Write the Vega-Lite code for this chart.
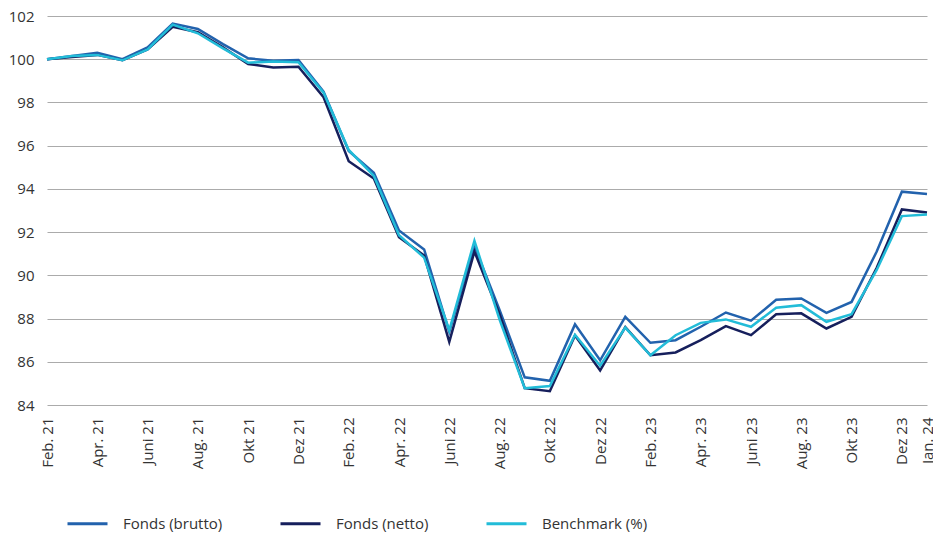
{
  "$schema": "https://vega.github.io/schema/vega-lite/v6.json",
  "width": 880,
  "height": 389,
  "autosize": {"type": "none"},
  "padding": {"left": 47, "top": 16, "right": 6, "bottom": 128},
  "background": "white",
  "config": {
    "view": {"stroke": null},
    "font": "Open Sans",
    "axis": {"labelFont": "Open Sans", "labelColor": "#333333", "labelFontSize": 15}
  },
  "data": {
    "values": [
      {"m": "Feb. 21", "s": "Fonds (brutto)", "v": 100}, {"m": "Feb. 21", "s": "Fonds (netto)", "v": 100}, {"m": "Feb. 21", "s": "Benchmark (%)", "v": 100},
      {"m": "März 21", "s": "Fonds (brutto)", "v": 100.15}, {"m": "März 21", "s": "Fonds (netto)", "v": 100.1}, {"m": "März 21", "s": "Benchmark (%)", "v": 100.15},
      {"m": "Apr. 21", "s": "Fonds (brutto)", "v": 100.3}, {"m": "Apr. 21", "s": "Fonds (netto)", "v": 100.2}, {"m": "Apr. 21", "s": "Benchmark (%)", "v": 100.2},
      {"m": "Mai 21", "s": "Fonds (brutto)", "v": 100.0}, {"m": "Mai 21", "s": "Fonds (netto)", "v": 99.95}, {"m": "Mai 21", "s": "Benchmark (%)", "v": 99.95},
      {"m": "Juni 21", "s": "Fonds (brutto)", "v": 100.55}, {"m": "Juni 21", "s": "Fonds (netto)", "v": 100.45}, {"m": "Juni 21", "s": "Benchmark (%)", "v": 100.45},
      {"m": "Juli 21", "s": "Fonds (brutto)", "v": 101.65}, {"m": "Juli 21", "s": "Fonds (netto)", "v": 101.5}, {"m": "Juli 21", "s": "Benchmark (%)", "v": 101.6},
      {"m": "Aug. 21", "s": "Fonds (brutto)", "v": 101.4}, {"m": "Aug. 21", "s": "Fonds (netto)", "v": 101.25}, {"m": "Aug. 21", "s": "Benchmark (%)", "v": 101.2},
      {"m": "Sep. 21", "s": "Fonds (brutto)", "v": 100.7}, {"m": "Sep. 21", "s": "Fonds (netto)", "v": 100.55}, {"m": "Sep. 21", "s": "Benchmark (%)", "v": 100.5},
      {"m": "Okt 21", "s": "Fonds (brutto)", "v": 100.04}, {"m": "Okt 21", "s": "Fonds (netto)", "v": 99.78}, {"m": "Okt 21", "s": "Benchmark (%)", "v": 99.84},
      {"m": "Nov. 21", "s": "Fonds (brutto)", "v": 99.93}, {"m": "Nov. 21", "s": "Fonds (netto)", "v": 99.62}, {"m": "Nov. 21", "s": "Benchmark (%)", "v": 99.89},
      {"m": "Dez 21", "s": "Fonds (brutto)", "v": 99.96}, {"m": "Dez 21", "s": "Fonds (netto)", "v": 99.65}, {"m": "Dez 21", "s": "Benchmark (%)", "v": 99.86},
      {"m": "Jan. 22", "s": "Fonds (brutto)", "v": 98.5}, {"m": "Jan. 22", "s": "Fonds (netto)", "v": 98.24}, {"m": "Jan. 22", "s": "Benchmark (%)", "v": 98.45},
      {"m": "Feb. 22", "s": "Fonds (brutto)", "v": 95.75}, {"m": "Feb. 22", "s": "Fonds (netto)", "v": 95.28}, {"m": "Feb. 22", "s": "Benchmark (%)", "v": 95.8},
      {"m": "März 22", "s": "Fonds (brutto)", "v": 94.75}, {"m": "März 22", "s": "Fonds (netto)", "v": 94.48}, {"m": "März 22", "s": "Benchmark (%)", "v": 94.6},
      {"m": "Apr. 22", "s": "Fonds (brutto)", "v": 92.08}, {"m": "Apr. 22", "s": "Fonds (netto)", "v": 91.76}, {"m": "Apr. 22", "s": "Benchmark (%)", "v": 91.86},
      {"m": "Mai 22", "s": "Fonds (brutto)", "v": 91.2}, {"m": "Mai 22", "s": "Fonds (netto)", "v": 90.92}, {"m": "Mai 22", "s": "Benchmark (%)", "v": 90.82},
      {"m": "Juni 22", "s": "Fonds (brutto)", "v": 87.38}, {"m": "Juni 22", "s": "Fonds (netto)", "v": 86.92}, {"m": "Juni 22", "s": "Benchmark (%)", "v": 87.46},
      {"m": "Juli 22", "s": "Fonds (brutto)", "v": 91.35}, {"m": "Juli 22", "s": "Fonds (netto)", "v": 91.1}, {"m": "Juli 22", "s": "Benchmark (%)", "v": 91.6},
      {"m": "Aug. 22", "s": "Fonds (brutto)", "v": 88.4}, {"m": "Aug. 22", "s": "Fonds (netto)", "v": 88.2}, {"m": "Aug. 22", "s": "Benchmark (%)", "v": 87.95},
      {"m": "Sep. 22", "s": "Fonds (brutto)", "v": 85.28}, {"m": "Sep. 22", "s": "Fonds (netto)", "v": 84.78}, {"m": "Sep. 22", "s": "Benchmark (%)", "v": 84.78},
      {"m": "Okt 22", "s": "Fonds (brutto)", "v": 85.12}, {"m": "Okt 22", "s": "Fonds (netto)", "v": 84.64}, {"m": "Okt 22", "s": "Benchmark (%)", "v": 84.88},
      {"m": "Nov. 22", "s": "Fonds (brutto)", "v": 87.73}, {"m": "Nov. 22", "s": "Fonds (netto)", "v": 87.22}, {"m": "Nov. 22", "s": "Benchmark (%)", "v": 87.25},
      {"m": "Dez 22", "s": "Fonds (brutto)", "v": 86.07}, {"m": "Dez 22", "s": "Fonds (netto)", "v": 85.6}, {"m": "Dez 22", "s": "Benchmark (%)", "v": 85.82},
      {"m": "Jan. 23", "s": "Fonds (brutto)", "v": 88.08}, {"m": "Jan. 23", "s": "Fonds (netto)", "v": 87.6}, {"m": "Jan. 23", "s": "Benchmark (%)", "v": 87.58},
      {"m": "Feb. 23", "s": "Fonds (brutto)", "v": 86.88}, {"m": "Feb. 23", "s": "Fonds (netto)", "v": 86.3}, {"m": "Feb. 23", "s": "Benchmark (%)", "v": 86.3},
      {"m": "März 23", "s": "Fonds (brutto)", "v": 87.0}, {"m": "März 23", "s": "Fonds (netto)", "v": 86.43}, {"m": "März 23", "s": "Benchmark (%)", "v": 87.23},
      {"m": "Apr. 23", "s": "Fonds (brutto)", "v": 87.62}, {"m": "Apr. 23", "s": "Fonds (netto)", "v": 87.0}, {"m": "Apr. 23", "s": "Benchmark (%)", "v": 87.8},
      {"m": "Mai 23", "s": "Fonds (brutto)", "v": 88.28}, {"m": "Mai 23", "s": "Fonds (netto)", "v": 87.65}, {"m": "Mai 23", "s": "Benchmark (%)", "v": 87.96},
      {"m": "Juni 23", "s": "Fonds (brutto)", "v": 87.9}, {"m": "Juni 23", "s": "Fonds (netto)", "v": 87.23}, {"m": "Juni 23", "s": "Benchmark (%)", "v": 87.62},
      {"m": "Juli 23", "s": "Fonds (brutto)", "v": 88.87}, {"m": "Juli 23", "s": "Fonds (netto)", "v": 88.2}, {"m": "Juli 23", "s": "Benchmark (%)", "v": 88.5},
      {"m": "Aug. 23", "s": "Fonds (brutto)", "v": 88.93}, {"m": "Aug. 23", "s": "Fonds (netto)", "v": 88.24}, {"m": "Aug. 23", "s": "Benchmark (%)", "v": 88.62},
      {"m": "Sep. 23", "s": "Fonds (brutto)", "v": 88.26}, {"m": "Sep. 23", "s": "Fonds (netto)", "v": 87.54}, {"m": "Sep. 23", "s": "Benchmark (%)", "v": 87.85},
      {"m": "Okt 23", "s": "Fonds (brutto)", "v": 88.77}, {"m": "Okt 23", "s": "Fonds (netto)", "v": 88.08}, {"m": "Okt 23", "s": "Benchmark (%)", "v": 88.2},
      {"m": "Nov. 23", "s": "Fonds (brutto)", "v": 91.1}, {"m": "Nov. 23", "s": "Fonds (netto)", "v": 90.35}, {"m": "Nov. 23", "s": "Benchmark (%)", "v": 90.25},
      {"m": "Dez 23", "s": "Fonds (brutto)", "v": 93.87}, {"m": "Dez 23", "s": "Fonds (netto)", "v": 93.05}, {"m": "Dez 23", "s": "Benchmark (%)", "v": 92.74},
      {"m": "Jan. 24", "s": "Fonds (brutto)", "v": 93.76}, {"m": "Jan. 24", "s": "Fonds (netto)", "v": 92.91}, {"m": "Jan. 24", "s": "Benchmark (%)", "v": 92.82}
    ]
  },
  "mark": {"type": "line", "strokeWidth": 2.5, "strokeJoin": "miter"},
  "encoding": {
    "x": {
      "field": "m",
      "type": "ordinal",
      "sort": null,
      "scale": {"type": "point", "padding": 0},
      "axis": {
        "title": null,
        "values": ["Feb. 21", "Apr. 21", "Juni 21", "Aug. 21", "Okt 21", "Dez 21", "Feb. 22", "Apr. 22", "Juni 22", "Aug. 22", "Okt 22", "Dez 22", "Feb. 23", "Apr. 23", "Juni 23", "Aug. 23", "Okt 23", "Dez 23", "Jan. 24"],
        "labelAngle": -90,
        "labelAlign": "right",
        "labelBaseline": "middle",
        "labelPadding": 12,
        "labelOverlap": false,
        "ticks": false,
        "domain": false,
        "grid": false
      }
    },
    "y": {
      "field": "v",
      "type": "quantitative",
      "scale": {"domain": [84, 102], "nice": false, "zero": false},
      "axis": {
        "title": null,
        "values": [84, 86, 88, 90, 92, 94, 96, 98, 100, 102],
        "ticks": false,
        "domain": false,
        "labelPadding": 13,
        "gridColor": "#ababab",
        "gridWidth": 1.2
      }
    },
    "color": {
      "field": "s",
      "type": "nominal",
      "sort": ["Fonds (brutto)", "Fonds (netto)", "Benchmark (%)"],
      "scale": {
        "domain": ["Fonds (brutto)", "Fonds (netto)", "Benchmark (%)"],
        "range": ["#2262ad", "#161f5c", "#22bcd8"]
      },
      "legend": {
        "title": null,
        "orient": "none",
        "direction": "horizontal",
        "legendX": 19,
        "legendY": 486,
        "symbolType": "stroke",
        "symbolSize": 1600,
        "symbolStrokeWidth": 3,
        "labelFont": "Open Sans",
        "labelFontSize": 15,
        "labelColor": "#333333",
        "labelOffset": 14,
        "columnPadding": 51
      }
    },
    "order": {"field": "s", "sort": "descending"}
  }
}
